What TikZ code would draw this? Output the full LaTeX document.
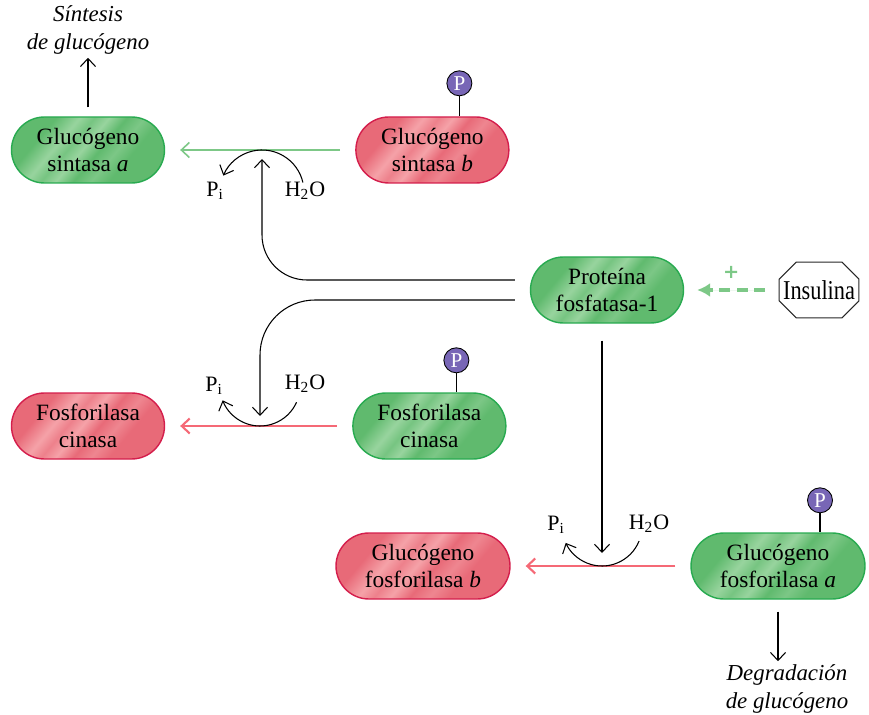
\documentclass[tikz,border=0pt]{standalone}
\usepackage{fontspec}
\setmainfont{Liberation Serif}
\newfontfamily\condfont[FakeStretch=0.82]{Liberation Serif}
\newfontfamily\plusfont{DejaVu Sans}
\usetikzlibrary{arrows.meta,positioning,shapes.misc,calc}

\definecolor{gdark}{RGB}{96,186,110}
\definecolor{glight}{RGB}{152,212,158}
\definecolor{gline}{RGB}{40,170,80}
\definecolor{rdark}{RGB}{232,106,120}
\definecolor{rlight}{RGB}{245,162,168}
\definecolor{rline}{RGB}{212,30,76}
\definecolor{rarr}{RGB}{245,105,118}
\definecolor{garr}{RGB}{125,200,135}
\definecolor{pfill}{RGB}{120,102,182}

\pgfdeclarehorizontalshading{gstreak}{100bp}{color(0bp)=(gdark); color(30bp)=(gdark); color(38bp)=(glight); color(43bp)=(gdark!60!glight); color(48bp)=(glight); color(54bp)=(gdark); color(60bp)=(gdark!50!glight); color(66bp)=(gdark); color(100bp)=(gdark)}
\pgfdeclarehorizontalshading{rstreak}{100bp}{color(0bp)=(rdark); color(30bp)=(rdark); color(38bp)=(rlight); color(43bp)=(rdark!60!rlight); color(48bp)=(rlight); color(54bp)=(rdark); color(60bp)=(rdark!50!rlight); color(66bp)=(rdark); color(100bp)=(rdark)}

\begin{document}
\begin{tikzpicture}[
    font=\fontsize{12.5}{15}\selectfont,
    enz/.style={rounded rectangle, line width=0.8pt, minimum width=3.2cm, minimum height=1.32cm, align=center, inner sep=2pt, font=\fontsize{13.3}{15}\selectfont},
    act/.style={enz, draw=gline, shade, shading=gstreak, shading angle=-40},
    inact/.style={enz, draw=rline, shade, shading=rstreak, shading angle=-40},
    hormone/.style={rectangle, minimum width=1.58cm, minimum height=1.1cm, inner sep=0pt, font=\condfont\fontsize{15.5}{16}\selectfont},
    phos/.style={circle, draw=black, line width=0.5pt, fill=pfill, text=white, inner sep=0pt, minimum size=0.5cm, font=\fontsize{12}{12}\selectfont},
    arr/.style={-{Straight Barb[length=1.6mm,width=3mm]}, line width=0.6pt},
    garrow/.style={arr, draw=garr, line width=0.9pt},
    rarrow/.style={arr, draw=rarr, line width=1.2pt},
    insarr/.style={-{Latex[length=2.6mm,width=2.8mm]}, draw=garr, fill=garr, line width=2.2pt, dash pattern=on 2.2mm off 1.3mm},
    lbl/.style={inner sep=1pt},
    note/.style={font=\fontsize{13}{15.4}\selectfont\itshape, align=center, inner sep=2pt}
]
\useasboundingbox (0,0) rectangle (17.38,14.28);

% enzymes
\node[act] (gsa) at (1.76,11.28) {Glucógeno\\sintasa \textit{a}};
\node[inact, right=3.8cm of gsa] (gsb) {Glucógeno\\sintasa \textit{b}};
\node[act] (pp1) at (12.14,8.48) {Proteína\\fosfatasa-1};
\node[hormone, right=1.9cm of pp1] (ins) {Insulina};
\node[inact] (fcr) at (1.76,5.76) {Fosforilasa\\cinasa};
\node[act, right=3.74cm of fcr] (fcg) {Fosforilasa\\cinasa};
\node[inact, minimum width=3.62cm] (gfb) at (8.46,2.96) {Glucógeno\\fosforilasa \textit{b}};
\node[act, minimum width=3.62cm] (gfa) at (15.56,2.96) {Glucógeno\\fosforilasa \textit{a}};

% octagon round insulina
\draw[line width=0.6pt, draw=black!85] ([xshift=0.34cm]ins.north west) -- ([xshift=-0.34cm]ins.north east)
  -- ([yshift=-0.34cm]ins.north east) -- ([yshift=0.34cm]ins.south east)
  -- ([xshift=-0.34cm]ins.south east) -- ([xshift=0.34cm]ins.south west)
  -- ([yshift=0.34cm]ins.south west) -- ([yshift=-0.34cm]ins.north west) -- cycle;

% phosphate groups
\node[phos] (p1) at ([shift={(0.54,0.66)}]gsb.north) {P};
\node[phos] (p2) at ([shift={(0.54,0.64)}]fcg.north) {P};
\node[phos] (p3) at ([shift={(0.84,0.64)}]gfa.north) {P};
\draw[line width=0.6pt] (p1) -- (p1 |- gsb.north);
\draw[line width=0.6pt] (p2) -- (p2 |- fcg.north);
\draw[line width=0.6pt] (p3) -- (p3 |- gfa.north);

% outcomes
\node[note] (sint) at (1.76,13.68) {Síntesis\\de glucógeno};
\node[note] (degr) at (15.74,0.5) {Degradación\\de glucógeno};
\draw[arr] ([yshift=0.18cm]gsa.north) -- (sint);
\draw[arr] ([yshift=-0.24cm]gfa.south) -- (gfa.south |- degr.north);

% dephosphorylation of glucogeno sintasa
\coordinate (c1) at (5.24,10.44);
\coordinate (t1) at (5.24,11.1);
\node[lbl] (pi1) at (4.3,10.46) {P\textsubscript{i}};
\node[lbl] (w1) at (6.1,10.46) {H\textsubscript{2}O};
\draw[garrow] ([xshift=-0.3cm]gsb.west) -- ([xshift=0.3cm]gsa.east);
\draw[arr] ([shift={(13:0.84)}]c1) arc[start angle=13, end angle=157, radius=0.84];
\draw[arr, rounded corners=0.9cm] ([shift={(-0.3,0.2)}]pp1.west) -| (t1);

% dephosphorylation of fosforilasa cinasa
\coordinate (c2) at (5.2,6.56);
\coordinate (t2) at (5.2,5.96);
\node[lbl] (pi2) at (4.28,6.56) {P\textsubscript{i}};
\node[lbl] (w2) at (6.1,6.6) {H\textsubscript{2}O};
\draw[rarrow] ([xshift=-0.3cm]fcg.west) -- ([xshift=0.3cm]fcr.east);
\draw[arr] ([shift={(-24:0.8)}]c2) arc[start angle=-24, end angle=-159, radius=0.8];
\draw[arr, rounded corners=1.1cm] ([shift={(-0.3,-0.2)}]pp1.west) -| (t2);

% dephosphorylation of glucogeno fosforilasa
\coordinate (c3) at (12.04,3.76);
\coordinate (s3) at ($(pp1.south -| c3)+(0,-0.34)$);
\coordinate (t3) at (12.04,3.22);
\node[lbl] (pi3) at (11.12,3.78) {P\textsubscript{i}};
\node[lbl] (w3) at (12.98,3.8) {H\textsubscript{2}O};
\draw[rarrow] ([xshift=-0.3cm]gfa.west) -- ([xshift=0.3cm]gfb.east);
\draw[arr] ([shift={(-22:0.8)}]c3) arc[start angle=-22, end angle=-155, radius=0.8];
\draw[arr] (s3) -- (t3);

% insulin activates PP1
\draw[insarr] ([xshift=-0.28cm]ins.west) -- node[midway, above=0.08cm, text=garr, font=\plusfont\fontsize{11}{11}\selectfont\bfseries] {+} ([xshift=0.26cm]pp1.east);
\end{tikzpicture}
\end{document}
